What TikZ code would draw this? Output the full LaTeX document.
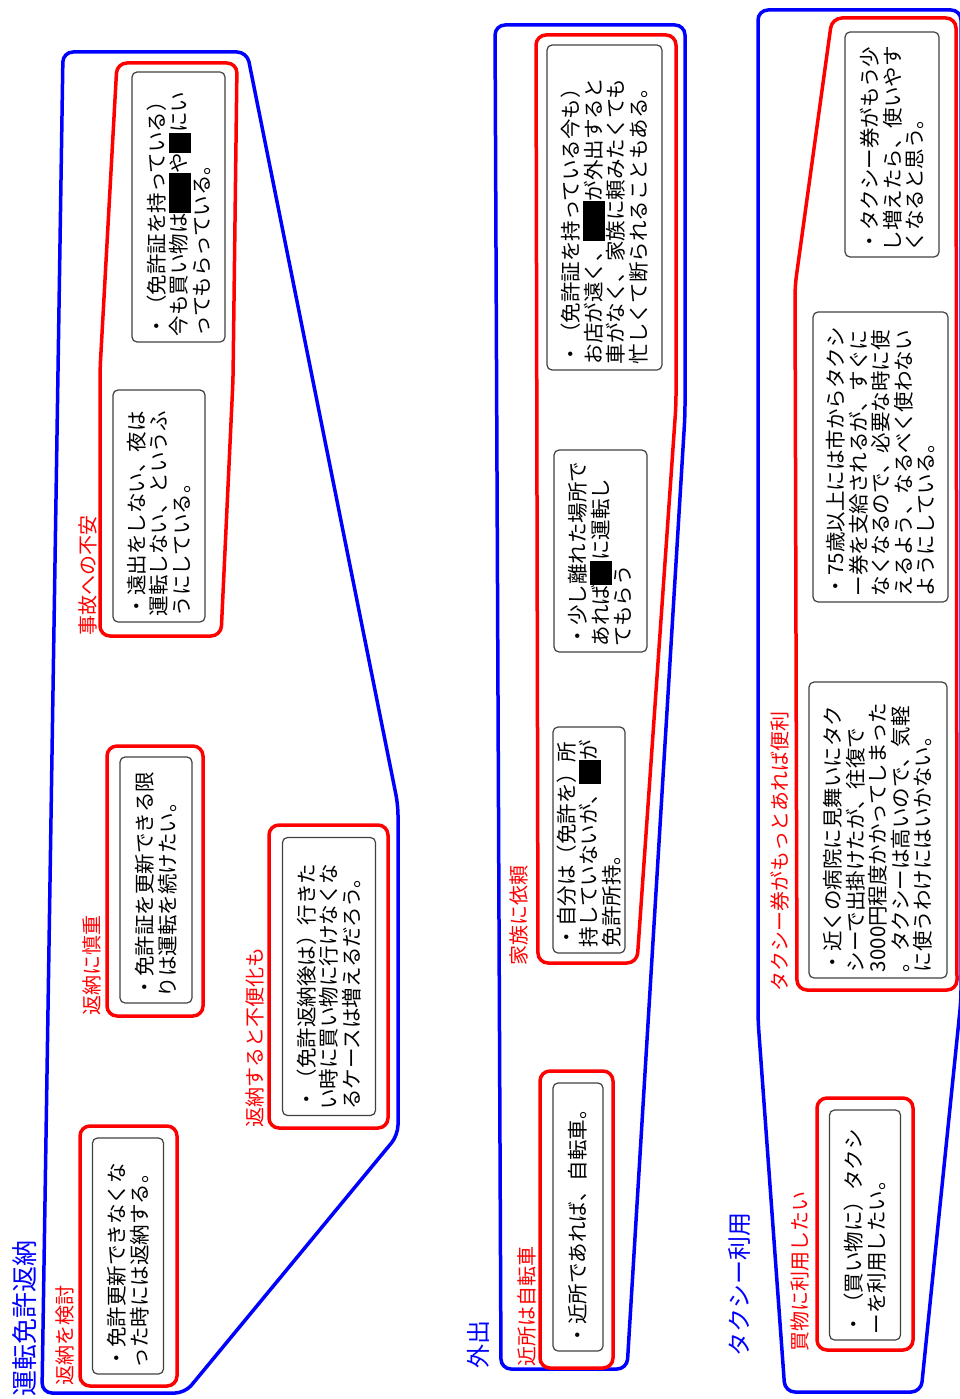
\documentclass[tikz,border=0pt]{standalone}
\usepackage{fontspec}
\setmainfont{Noto Sans CJK JP}
\newcommand{\redact}[1]{\smash{\rule[-4pt]{#1}{22pt}}}
\begin{document}
\begin{tikzpicture}[x=1pt,y=-1pt,
  card/.style={draw=black!75, line width=1.2pt, rounded corners=5pt, rotate=90,
    align=left, inner xsep=6pt, inner ysep=0pt,
    font=\fontsize{20.5}{22.5}\selectfont},
  grp/.style={draw=blue, line width=3.5pt, rounded corners=10pt},
  sub/.style={draw=red, line width=3.5pt, rounded corners=10pt},
  lab/.style={text=red, rotate=90, anchor=west, inner sep=0pt,
    font=\fontsize{20}{22}\selectfont},
  ttl/.style={text=blue, rotate=90, anchor=west, inner sep=0pt,
    font=\fontsize{24}{26}\selectfont}]
\useasboundingbox (0,0) rectangle (960,1399);

% ---------- group 1 ----------
\draw[grp] (63,52) -- (247,52) -- (398,805) -- (398,1135) -- (185,1393) -- (42,1393) -- cycle;
\draw[sub] (117,63) -- (237,63) -- (233,380) -- (221,636) -- (100,636) -- (100,370) -- cycle;
\draw[sub] (107,746) rectangle (203,1016);
\draw[sub] (269,825) rectangle (388,1128);
\draw[sub] (80,1126) rectangle (177,1386);

\node[card, minimum width=270pt, minimum height=93pt, text width=258pt] (a1) at (178.5,207)
  {・（免許証を持っている）\\今も買い物は\redact{40pt}や\redact{20pt}にい\\ってもらっている。};
\node[card, minimum width=232pt, minimum height=92pt, text width=220pt] (a2) at (159,506)
  {・遠出をしない、夜は\\運転しない、というふ\\うにしている。};
\node[card, minimum width=246pt, minimum height=72pt, text width=234pt] (a3) at (156,880)
  {・免許証を更新できる限\\りは運転を続けたい。};
\node[card, minimum width=278pt, minimum height=93pt, text width=266pt] (a4) at (329,976.5)
  {・（免許返納後は）行きた\\い時に買い物に行けなくな\\るケースは増えるだろう。};
\node[card, minimum width=236pt, minimum height=71pt, text width=224pt] (a5) at (128,1256)
  {・免許更新できなくな\\った時には返納する。};

\node[lab] (l1) at (88,636) {事故への不安};
\node[lab] (l2) at (92,1016) {返納に慎重};
\node[lab] (l3) at (255,1128) {返納すると不便化も};
\node[lab] (l4) at (65,1386) {返納を検討};
\node[ttl, font=\fontsize{26}{28}\selectfont] (t1) at (25,1397) {運転免許返納};

% ---------- group 2 ----------
\draw[grp] (495,25) -- (685,25) -- (685,415) -- (627,1369) -- (501,1369) -- cycle;
\draw[sub] (536,35) -- (676,35) -- (676,405) -- (637,963) -- (538,963) -- cycle;
\draw[sub] (540,1071) rectangle (613,1368);

\node[card, minimum width=325pt, minimum height=115pt, text width=313pt] (b1) at (604.5,207.5)
  {・（免許証を持っている今も）\\お店が遠く、\redact{40pt}が外出すると\\車がなく、家族に頼みたくても\\忙しくて断られることもある。};
\node[card, minimum width=202pt, minimum height=93pt, text width=190pt] (b2) at (600.5,551)
  {・少し離れた場所で\\あれば\redact{24pt}に運転し\\てもらう};
\node[card, minimum width=226pt, minimum height=72pt, text width=214pt] (b3) at (589,840)
  {・自分は（免許を）所\\持していないが、\redact{24pt}が\\免許所持。};
\node[card, minimum width=268pt, minimum height=50pt, text width=256pt] (b4) at (578,1217)
  {・近所であれば、自転車。};

\node[lab] (l5) at (519,966) {家族に依頼};
\node[lab] (l6) at (527,1367) {近所は自転車};
\node[ttl] (t2) at (478,1369) {外出};

% ---------- group 3 ----------
\draw[grp] (758,10) -- (961,10) -- (961,1000) -- (921,1392) -- (785,1392) -- (758,1020) -- cycle;
\draw[sub] (797,990) -- (795,286) -- (832,18) -- (956,18) -- (957,990) -- cycle;
\draw[sub] (817,1098) rectangle (913,1350);

\node[card, minimum width=225pt, minimum height=94pt, text width=213pt] (c1) at (892,144.5)
  {・タクシー券がもう少\\し増えたら、使いやす\\くなると思う。};
\node[card, minimum width=290pt, minimum height=135pt, text width=278pt] (c2) at (880.5,457)
  {・75歳以上には市からタクシ\\ー券を支給されるが、すぐに\\なくなるので、必要な時に使\\えるよう、なるべく使わない\\ようにしている。};
\node[card, minimum width=296pt, minimum height=138pt, text width=284pt] (c3) at (878,830)
  {・近くの病院に見舞いにタク\\シーで出掛けたが、往復で\\3000円程度かかってしまった\\。タクシーは高いので、気軽\\に使うわけにはいかない。};
\node[card, minimum width=230pt, minimum height=71pt, text width=218pt] (c4) at (865,1225)
  {・（買い物に）タクシ\\ーを利用したい。};

\node[lab] (l7) at (780,992) {タクシー券がもっとあれば便利};
\node[lab] (l8) at (800,1352) {買物に利用したい};
\node[ttl] (t3) at (740,1357) {タクシー利用};
\end{tikzpicture}
\end{document}
